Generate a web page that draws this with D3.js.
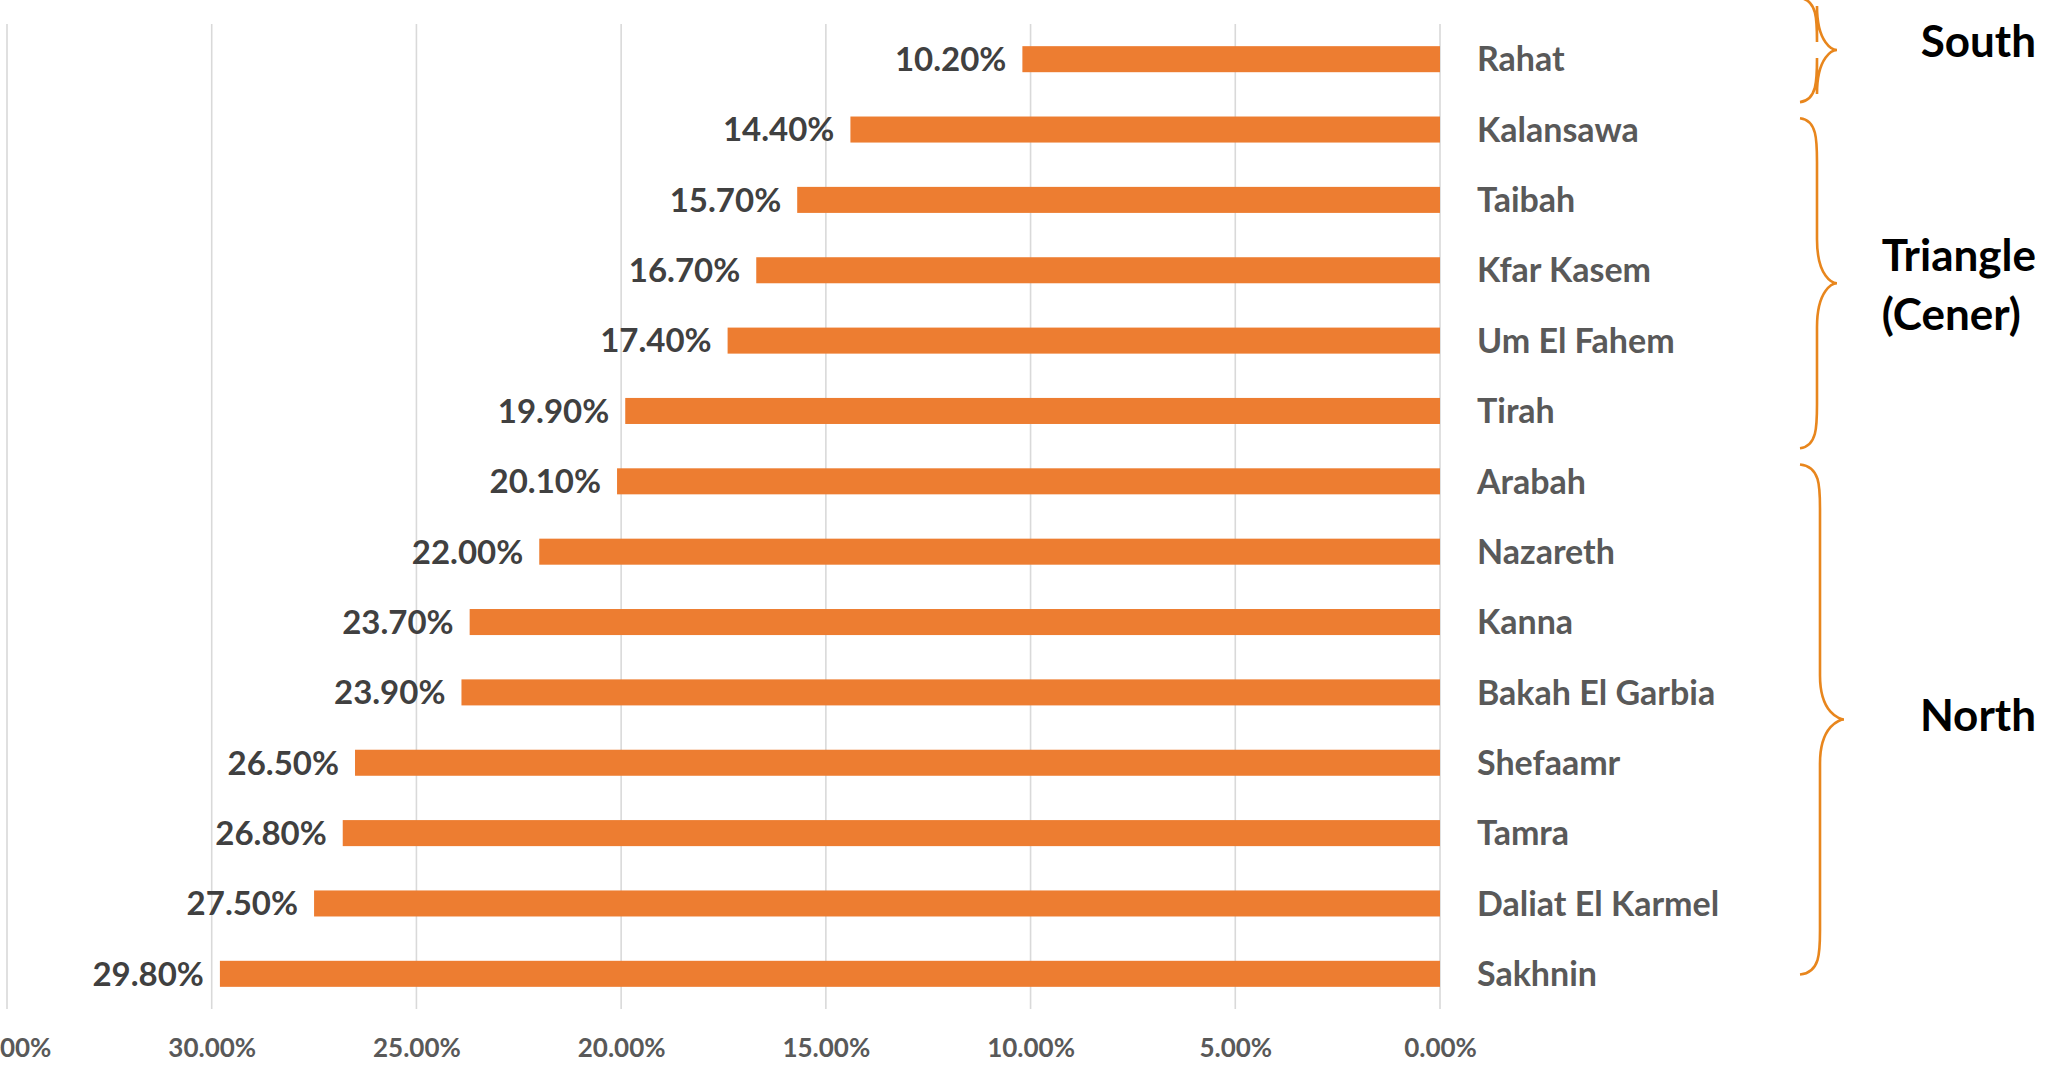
<!DOCTYPE html>
<html>
<head>
<meta charset="utf-8">
<title>Share by town</title>
<script src="https://cdn.jsdelivr.net/npm/d3@7"></script>
<style>
  body { margin: 0; background: #fff; }
  text { font-family: Lato, "Open Sans", sans-serif; font-weight: bold; }
</style>
</head>
<body>
<svg id="chart" width="2049" height="1066"></svg>
<script>
// data, top row first
var towns = ["Rahat", "Kalansawa", "Taibah", "Kfar Kasem", "Um El Fahem", "Tirah", "Arabah",
  "Nazareth", "Kanna", "Bakah El Garbia", "Shefaamr", "Tamra", "Daliat El Karmel", "Sakhnin"];
var shares = [0.102, 0.144, 0.157, 0.167, 0.174, 0.199, 0.201,
  0.220, 0.237, 0.239, 0.265, 0.268, 0.275, 0.298];
var ticks = [0, 0.05, 0.10, 0.15, 0.20, 0.25, 0.30, 0.35];

// regions: label lines, and the span of the brace in row units
var regionNames = [["South"], ["Triangle", "(Cener)"], ["North"]];
var regionFrom = [-0.87, 0.84, 5.76];
var regionTo = [0.61, 5.53, 13.01];

var svg = d3.select("#chart");
var plotTop = 24, plotBottom = 1009, plotLeft = 7, plotRight = 1440;

var x = d3.scaleLinear().domain([0, 0.35]).range([plotRight, plotLeft]);
var y = d3.scaleBand().domain(towns).range([plotTop, plotBottom]).paddingInner(0.63).paddingOuter(0.315);
var row = d3.scaleLinear().domain([0, towns.length - 1])
  .range([y(towns[0]) + y.bandwidth() / 2, y(towns[towns.length - 1]) + y.bandwidth() / 2]);

// grid
svg.append("g").selectAll("line").data(ticks).join("line")
  .attr("x1", d => x(d)).attr("x2", d => x(d))
  .attr("y1", plotTop).attr("y2", plotBottom)
  .attr("stroke", "#d9d9d9").attr("stroke-width", 1.6);

// x axis labels
var xAxis = d3.axisBottom(x).tickValues(ticks).tickFormat(d3.format(".2%")).tickSize(0).tickPadding(0);
svg.append("g").attr("transform", "translate(0," + 1039 + ")").call(xAxis)
  .call(g => g.select(".domain").remove())
  .selectAll("text").attr("fill", "#595959").style("font-size", "26px");

// bars
svg.append("g").selectAll("rect").data(towns).join("rect")
  .attr("x", (d, i) => x(shares[i]))
  .attr("y", d => y(d))
  .attr("width", (d, i) => x(0) - x(shares[i]))
  .attr("height", y.bandwidth())
  .attr("fill", "#ed7d31");

// value labels
svg.append("g").selectAll("text").data(towns).join("text")
  .attr("x", (d, i) => x(shares[i]) - 16)
  .attr("y", d => y(d) + y.bandwidth() / 2)
  .attr("dy", "0.36em")
  .attr("text-anchor", "end")
  .attr("fill", "#404040")
  .style("font-size", "33px")
  .text((d, i) => d3.format(".2%")(shares[i]));

// town names
svg.append("g").selectAll("text").data(towns).join("text")
  .attr("x", plotRight + 37)
  .attr("y", d => y(d) + y.bandwidth() / 2)
  .attr("dy", "0.36em")
  .attr("fill", "#595959")
  .style("font-size", "34px")
  .text(d => d);

// braces
function brace(y0, y1, x0, xm, xt) {
  var ym = (y0 + y1) / 2, r = 22;
  return "M" + x0 + "," + y0 +
    "C" + xm + "," + (y0 + 2) + " " + xm + "," + (y0 + r) + " " + xm + "," + (y0 + r * 2) +
    "L" + xm + "," + (ym - r * 2) +
    "C" + xm + "," + (ym - 6) + " " + (xt - 4) + "," + ym + " " + xt + "," + ym +
    "C" + (xt - 4) + "," + ym + " " + xm + "," + (ym + 6) + " " + xm + "," + (ym + r * 2) +
    "L" + xm + "," + (y1 - r * 2) +
    "C" + xm + "," + (y1 - r) + " " + xm + "," + (y1 - 2) + " " + x0 + "," + y1;
}

var rg = svg.append("g");
regionNames.forEach(function(name, i) {
  var y0 = row(regionFrom[i]), y1 = row(regionTo[i]);
  var big = (y1 - y0) > 400;
  rg.append("path")
    .attr("d", brace(y0, y1, 1800, big ? 1820 : 1817, big ? 1844 : 1837))
    .attr("fill", "none")
    .attr("stroke", "#e8861d")
    .attr("stroke-width", 2.6);
  // short labels sit a little above the tip, two-line ones a bit lower
  var ym = (y0 + y1) / 2 - (big ? 4 : 9) + (name.length > 1 ? 10 : 0);
  var t = rg.append("text")
    .attr("fill", "#000")
    .style("font-size", "44px");
  name.forEach(function(line, j) {
    t.append("tspan")
      .attr("x", 0)
      .attr("y", ym + (j - (name.length - 1) / 2) * 59)
      .attr("dy", "0.36em")
      .text(line);
  });
  // lines share a left edge, block ends at the right margin
  var w = t.node().getBBox().width;
  t.selectAll("tspan").attr("x", 2036 - w);
});
</script>
</body>
</html>
